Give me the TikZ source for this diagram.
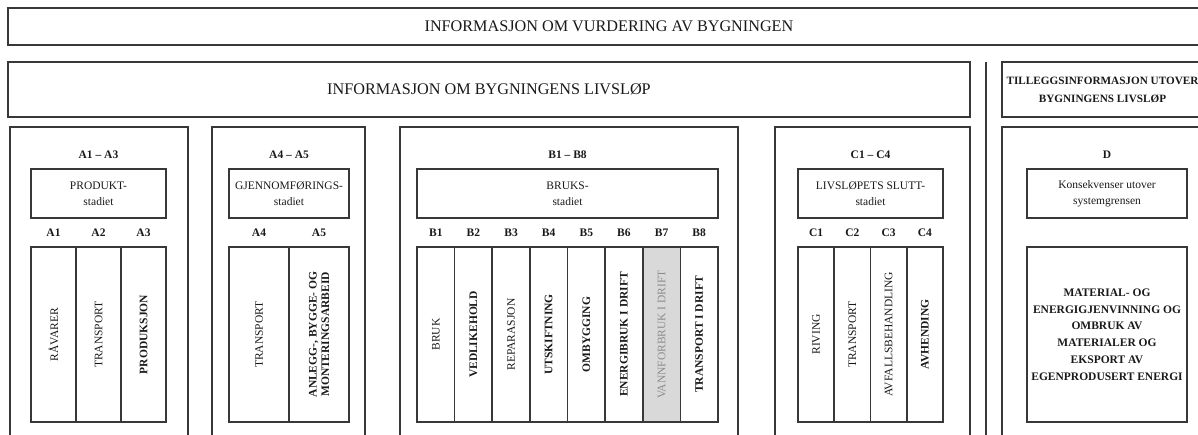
\documentclass[tikz,border=0pt]{standalone}
\usepackage{fontspec}
\setmainfont{Liberation Serif}
\usetikzlibrary{positioning,calc}

\tikzset{
  boks/.style={draw=black!78, line width=1.6pt, inner sep=1pt, align=center, text=black!90},
  tittel/.style={font=\fontsize{16.2}{18}\selectfont},
  modul/.style={font=\bfseries\fontsize{11.5}{14}\selectfont, text=black!90},
  fase/.style={boks, minimum height=49pt, font=\fontsize{11.5}{16}\selectfont},
  kolonne/.style={boks, rotate=90, minimum width=175pt, minimum height=#1, font=\fontsize{11.5}{12.5}\selectfont},
  vann/.style={fill=black!15, text=black!45},
}

\begin{document}
\begin{tikzpicture}[x=1pt, y=-1pt]
  \def\etikett{155}
  \def\fasey{193.5}
  \def\nummery{233}
  \def\koly{334.5}

  \useasboundingbox (0,0) rectangle (1198,435);
  \clip (0,0) rectangle (1198,435);

  \node[boks, tittel, minimum width=1202pt, minimum height=37pt] (vurdering) at (609,26.5) {INFORMASJON OM VURDERING AV BYGNINGEN};
  \node[boks, tittel, minimum width=962pt, minimum height=55pt] (livslop) at (489,89.5) {INFORMASJON OM BYGNINGENS LIVSLØP};
  \node[boks, minimum width=201pt, minimum height=55pt, font=\bfseries\fontsize{11.2}{18}\selectfont] (tillegg) at (1102.5,89.5) {TILLEGGSINFORMASJON UTOVER\\BYGNINGENS LIVSLØP};
  \draw[black!78, line width=1.6pt] (986,62) -- (986,445);

  % moduler
  \foreach \navn/\cx/\bredde in {A/99/178, AA/288.5/153, B/569/338, C/872.5/195, D/1105/206}
    \node[boks, minimum width=\bredde pt, minimum height=318pt] (mod\navn) at (\cx,286) {};

  \node[modul] (omrA) at (98.5,\etikett) {A1 – A3};
  \node[modul] (omrAA) at (289,\etikett) {A4 – A5};
  \node[modul] (omrB) at (567.5,\etikett) {B1 – B8};
  \node[modul] (omrC) at (870.5,\etikett) {C1 – C4};
  \node[modul] (omrD) at (1107,\etikett) {D};

  \node[fase, minimum width=135pt] (faseA) at (98.5,\fasey) {PRODUKT-\\stadiet};
  \node[fase, minimum width=120pt] (faseAA) at (289,\fasey) {GJENNOMFØRINGS-\\stadiet};
  \node[fase, minimum width=301pt] (faseB) at (567.5,\fasey) {BRUKS-\\stadiet};
  \node[fase, minimum width=145pt] (faseC) at (870.5,\fasey) {LIVSLØPETS SLUTT-\\stadiet};
  \node[fase, minimum width=160pt] (faseD) at (1107,\fasey) {Konsekvenser utover\\systemgrensen};

  \foreach \i/\tekst in {1/RÅVARER, 2/TRANSPORT, 3/\bfseries PRODUKSJON} {
    \node[kolonne=45pt] (kolA\i) at ({31+(\i-0.5)*45},\koly) {\tekst};
    \node[modul] (nrA\i) at ({31+(\i-0.5)*45},\nummery) {A\i};
  }

  \node[kolonne=60pt] (kolA4) at (259,\koly) {TRANSPORT};
  \node[kolonne=60pt, font=\bfseries\fontsize{11.5}{12.5}\selectfont] (kolA5) at (319,\koly) {ANLEGG-, BYGGE- OG\\MONTERINGSARBEID};
  \node[modul] (nrA4) at (259,\nummery) {A4};
  \node[modul] (nrA5) at (319,\nummery) {A5};

  \foreach \i/\tekst/\stil in {1/BRUK/, 2/\bfseries VEDLIKEHOLD/, 3/REPARASJON/, 4/\bfseries UTSKIFTNING/, 5/\bfseries OMBYGGING/, 6/\bfseries ENERGIBRUK I DRIFT/, 7/VANNFORBRUK I DRIFT/vann, 8/\bfseries TRANSPORT I DRIFT/} {
    \node[kolonne=37.625pt, \stil] (kolB\i) at ({417+(\i-0.5)*37.625},\koly) {\tekst};
    \node[modul] (nrB\i) at ({417+(\i-0.5)*37.625},\nummery) {B\i};
  }

  \foreach \i/\tekst in {1/RIVING, 2/TRANSPORT, 3/AVFALLSBEHANDLING, 4/\bfseries AVHENDING} {
    \node[kolonne=36.25pt] (kolC\i) at ({798+(\i-0.5)*36.25},\koly) {\tekst};
    \node[modul] (nrC\i) at ({798+(\i-0.5)*36.25},\nummery) {C\i};
  }

  \node[boks, minimum width=160pt, minimum height=175pt, font=\bfseries\fontsize{11.5}{16.7}\selectfont] (kolD) at (1107,\koly) {MATERIAL- OG\\ENERGIGJENVINNING OG\\OMBRUK AV\\MATERIALER OG\\EKSPORT AV\\EGENPRODUSERT ENERGI};
\end{tikzpicture}
\end{document}
